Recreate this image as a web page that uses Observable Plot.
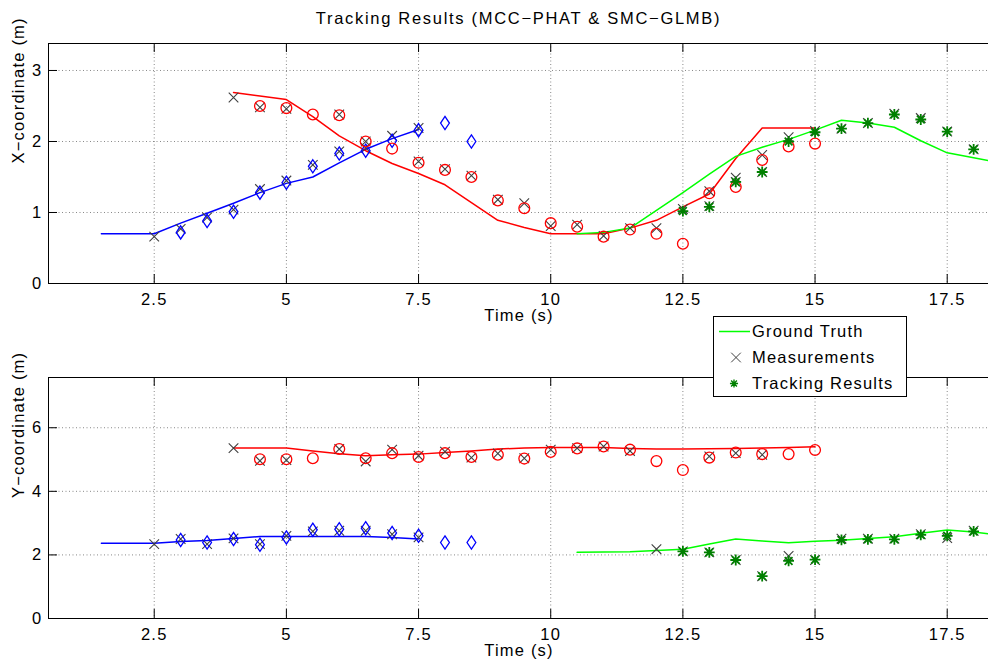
<!DOCTYPE html>
<html><head><meta charset="utf-8">
<script src="https://cdn.jsdelivr.net/npm/d3@7"></script>
<script src="https://cdn.jsdelivr.net/npm/@observablehq/plot@0.6"></script>
<style>
html,body{margin:0;padding:0;background:#fff;overflow:hidden;}
#root{position:relative;width:988px;height:661px;overflow:hidden;font-family:"Liberation Sans",Arial,sans-serif;color:#000;}
.abs{position:absolute;}
#title{left:48px;width:941px;top:8px;text-align:center;font-size:16.5px;letter-spacing:1.7px;line-height:20px;white-space:nowrap;}
</style></head><body>
<div id="root">
<div id="top" class="abs" style="left:0;top:0"></div>
<div id="bot" class="abs" style="left:0;top:330px"></div>
<div id="title" class="abs">Tracking Results (MCC−PHAT &amp; SMC−GLMB)</div>
<div id="legend" class="abs" style="left:713px;top:316px"></div>
</div>
<script>
// ---------- data ----------
const xTicks = [2.5, 5, 7.5, 10, 12.5, 15, 17.5];
const yTicksTop = [0, 1, 2, 3];
const yTicksBot = [0, 2, 4, 6];

// target 1 (blue)
const t1Truth = [1.5, 2, 2.5, 3, 3.5, 4, 4.5, 5, 5.5, 6, 6.5, 7, 7.5];
const x1Truth = [0.70, 0.70, 0.70, 0.85, 0.99, 1.13, 1.28, 1.41, 1.50, 1.70, 1.89, 2.04, 2.17];
const y1Truth = [2.37, 2.37, 2.37, 2.42, 2.45, 2.52, 2.58, 2.58, 2.58, 2.58, 2.58, 2.55, 2.50];
const t1Est = [3, 3.5, 4, 4.5, 5, 5.5, 6, 6.5, 7, 7.5, 8, 8.5];
const x1Est = [0.72, 0.88, 1.01, 1.28, 1.42, 1.65, 1.83, 1.87, 2.01, 2.16, 2.26, 2.00];
const y1Est = [2.47, 2.39, 2.50, 2.32, 2.55, 2.79, 2.81, 2.84, 2.69, 2.60, 2.39, 2.39];

// target 2 (red)
const t2Truth = [4, 4.5, 5, 5.5, 6, 6.5, 7, 7.5, 8, 8.5, 9, 9.5, 10, 10.5, 11, 11.5, 12, 12.5, 13, 13.5, 14, 14.5, 15];
const x2Truth = [2.69, 2.64, 2.59, 2.35, 2.08, 1.87, 1.69, 1.55, 1.39, 1.14, 0.89, 0.79, 0.70, 0.70, 0.70, 0.78, 0.89, 1.08, 1.26, 1.76, 2.19, 2.19, 2.19];
const y2Truth = [5.36, 5.36, 5.36, 5.27, 5.18, 5.12, 5.15, 5.17, 5.22, 5.27, 5.33, 5.36, 5.38, 5.38, 5.38, 5.35, 5.33, 5.33, 5.34, 5.35, 5.36, 5.38, 5.40];
const t2Est = [4.5, 5, 5.5, 6, 6.5, 7, 7.5, 8, 8.5, 9, 9.5, 10, 10.5, 11, 11.5, 12, 12.5, 13, 13.5, 14, 14.5, 15];
const x2Est = [2.50, 2.47, 2.38, 2.37, 2.00, 1.90, 1.70, 1.60, 1.50, 1.17, 1.06, 0.85, 0.80, 0.66, 0.76, 0.70, 0.56, 1.27, 1.36, 1.74, 1.93, 1.97];
const y2Est = [5.01, 5.01, 5.04, 5.33, 5.04, 5.20, 5.08, 5.20, 5.08, 5.15, 5.03, 5.24, 5.35, 5.41, 5.31, 4.95, 4.67, 5.06, 5.22, 5.17, 5.17, 5.30];

// target 3 (green)
const t3Truth = [10.5, 11, 11.5, 12, 12.5, 13, 13.5, 14, 14.5, 15, 15.5, 16, 16.5, 17, 17.5, 18, 18.5];
const x3Truth = [0.70, 0.72, 0.78, 1.03, 1.28, 1.54, 1.79, 1.92, 2.03, 2.16, 2.30, 2.26, 2.20, 2.01, 1.84, 1.77, 1.70];
const y3Truth = [2.08, 2.09, 2.10, 2.14, 2.18, 2.34, 2.50, 2.44, 2.38, 2.43, 2.46, 2.52, 2.57, 2.68, 2.78, 2.72, 2.62];
const t3Est = [12.5, 13, 13.5, 14, 14.5, 15, 15.5, 16, 16.5, 17, 17.5, 18];
const x3Est = [1.02, 1.08, 1.43, 1.57, 2.00, 2.13, 2.18, 2.26, 2.38, 2.31, 2.14, 1.89];
const y3Est = [2.11, 2.08, 1.84, 1.33, 1.81, 1.85, 2.47, 2.49, 2.49, 2.63, 2.60, 2.74];

// measurements
const tMeasX = [2.5, 3, 3.5, 4, 4, 4.5, 4.5, 5, 5, 5.5, 6, 6, 6.5, 6.5, 7, 7.5, 7.5, 8, 8.5, 9, 9.5, 10, 10.5, 11, 11.5, 12, 12.5, 13, 13, 13.5, 13.5, 14, 14, 14.5, 15, 15.5, 16, 16.5, 17, 17.5, 18];
const xMeas  = [0.66, 0.77, 0.93, 1.04, 2.62, 1.33, 2.48, 1.45, 2.46, 1.67, 1.86, 2.38, 1.91, 2.00, 2.08, 2.19, 1.72, 1.61, 1.52, 1.18, 1.13, 0.81, 0.83, 0.67, 0.78, 0.78, 1.05, 1.30, 1.09, 1.49, 1.43, 1.81, 1.57, 2.06, 2.15, 2.18, 2.26, 2.39, 2.33, 2.14, 1.89];
const tMeasY = [2.5, 3, 3.5, 4, 4, 4.5, 4.5, 5, 5, 5.5, 6, 6, 6.5, 6.5, 7, 7, 7.5, 7.5, 8, 8.5, 9, 9.5, 10, 10.5, 11, 11.5, 12, 12.5, 13, 13, 13.5, 13.5, 14, 14, 14.5, 15, 15.5, 16, 16.5, 17, 17.5, 18];
const yMeas  = [2.34, 2.50, 2.34, 2.52, 5.36, 2.34, 4.96, 2.60, 4.98, 2.74, 2.76, 5.33, 2.76, 4.94, 2.65, 5.31, 2.55, 5.12, 5.25, 5.06, 5.19, 5.04, 5.31, 5.36, 5.41, 5.27, 2.18, 2.11, 5.10, 2.08, 5.20, 1.84, 5.15, 1.33, 1.97, 1.84, 2.51, 2.51, 2.51, 2.65, 2.53, 2.76];

const legendLabels = ["Ground Truth", "Measurements", "Tracking Results"];

// ---------- styles ----------
const BLUE = "#0000ff", RED = "#ff0000", GREEN = "#00ff00", DKGREEN = "#008000", GRAY = "#404040";
const symTimes = {draw(ctx) { const r = 4.8; ctx.moveTo(-r, -r); ctx.lineTo(r, r); ctx.moveTo(r, -r); ctx.lineTo(-r, r); }};
const symStar = {draw(ctx) { const r = 5.4, d = r * 0.72;
  ctx.moveTo(-r, 0); ctx.lineTo(r, 0); ctx.moveTo(0, -r); ctx.lineTo(0, r);
  ctx.moveTo(-d, -d); ctx.lineTo(d, d); ctx.moveTo(d, -d); ctx.lineTo(-d, d); }};
const symDiamond = {draw(ctx) { const w = 4.4, h = 6.6; ctx.moveTo(0, -h); ctx.lineTo(w, 0); ctx.lineTo(0, h); ctx.lineTo(-w, 0); ctx.closePath(); }};

const zip = (ts, vs) => ts.map((t, i) => ({t, v: vs[i]}));
const FONT = '"Liberation Sans", Arial, sans-serif';
const W = 1000, ML = 48, MR = 11;
const fmt = d => String(d);

function panel({height, mt, mb, ydom, yticks, ylabel, series, meas}) {
  const innerH = height - mt - mb, innerW = W - ML - MR;
  const marks = [
    Plot.gridX(xTicks, {stroke: "#888", strokeOpacity: 1, strokeDasharray: "1,2.5"}),
    Plot.gridY(yticks, {stroke: "#888", strokeOpacity: 1, strokeDasharray: "1,2.5"}),
    Plot.tickX(xTicks, {x: d => d, insetTop: innerH - 9, stroke: "black"}),
    Plot.tickX(xTicks, {x: d => d, insetBottom: innerH - 9, stroke: "black"}),
    Plot.tickY(yticks, {y: d => d, insetRight: innerW - 9, stroke: "black"}),
    Plot.frame({stroke: "black"}),
    Plot.axisX({ticks: xTicks, tickSize: 0, tickPadding: 10, tickFormat: fmt, label: null}),
    Plot.axisY({ticks: yticks, tickSize: 0, tickPadding: 6, tickFormat: fmt, label: null}),
    Plot.text(["Time (s)"], {text: d => d, frameAnchor: "bottom", dy: 32, lineAnchor: "middle"}),
    Plot.text([ylabel], {text: d => d, frameAnchor: "left", dx: -30, rotate: -90, lineAnchor: "middle"})
  ];
  for (const s of series) marks.push(Plot.line(s.truth, {x: "t", y: "v", stroke: s.color, strokeWidth: 1.5}));
  marks.push(Plot.dot(meas, {x: "t", y: "v", symbol: symTimes, r: 5, fill: "none", stroke: GRAY, strokeWidth: 1.1}));
  for (const s of series) marks.push(Plot.dot(s.est, {x: "t", y: "v", symbol: s.symbol, r: s.r, fill: "none", stroke: s.estColor, strokeWidth: s.sw}));
  return Plot.plot({
    width: W, height, marginTop: mt, marginBottom: mb, marginLeft: ML, marginRight: MR,
    x: {domain: [0.5, 18.3]},
    y: {domain: ydom},
    style: {fontFamily: FONT, fontSize: "16.5px", letterSpacing: "1.2px", background: "transparent", maxWidth: "none", overflow: "visible", color: "black"},
    marks
  });
}

const topPlot = panel({
  height: 330, mt: 43, mb: 47, ydom: [0, 3.38], yticks: yTicksTop, ylabel: "X−coordinate (m)",
  series: [
    {truth: zip(t1Truth, x1Truth), est: zip(t1Est, x1Est), color: BLUE, estColor: BLUE, symbol: symDiamond, r: 5, sw: 1.3},
    {truth: zip(t2Truth, x2Truth), est: zip(t2Est, x2Est), color: RED, estColor: RED, symbol: "circle", r: 5.4, sw: 1.3},
    {truth: zip(t3Truth, x3Truth), est: zip(t3Est, x3Est), color: GREEN, estColor: DKGREEN, symbol: symStar, r: 5, sw: 1.8}
  ],
  meas: zip(tMeasX, xMeas)
});
const botPlot = panel({
  height: 331, mt: 47, mb: 43, ydom: [0, 7.58], yticks: yTicksBot, ylabel: "Y−coordinate (m)",
  series: [
    {truth: zip(t1Truth, y1Truth), est: zip(t1Est, y1Est), color: BLUE, estColor: BLUE, symbol: symDiamond, r: 5, sw: 1.3},
    {truth: zip(t2Truth, y2Truth), est: zip(t2Est, y2Est), color: RED, estColor: RED, symbol: "circle", r: 5.4, sw: 1.3},
    {truth: zip(t3Truth, y3Truth), est: zip(t3Est, y3Est), color: GREEN, estColor: DKGREEN, symbol: symStar, r: 5, sw: 1.8}
  ],
  meas: zip(tMeasY, yMeas)
});
document.getElementById("top").appendChild(topPlot);
document.getElementById("bot").appendChild(botPlot);

// ---------- legend ----------
const lg = d3.select("#legend").append("svg").attr("width", 196).attr("height", 83)
  .style("font-family", FONT).style("font-size", "16.5px").style("letter-spacing", "1.2px");
lg.append("rect").attr("x", 0.5).attr("y", 0.5).attr("width", 193).attr("height", 80).attr("fill", "white").attr("stroke", "black");
const rowsY = [15.5, 41.5, 67.5];
lg.append("line").attr("x1", 6).attr("x2", 37).attr("y1", rowsY[0]).attr("y2", rowsY[0]).attr("stroke", GREEN).attr("stroke-width", 1.5);
lg.append("path").attr("d", d3.symbol().type(symTimes)()).attr("transform", `translate(23,${rowsY[1]})`).attr("fill", "none").attr("stroke", GRAY);
lg.append("path").attr("d", d3.symbol().type(symStar)()).attr("transform", `translate(21,${rowsY[2]}) scale(0.75)`).attr("fill", "none").attr("stroke", DKGREEN).attr("stroke-width", 1.8);
legendLabels.forEach((s, i) => {
  lg.append("text").attr("x", 39).attr("y", rowsY[i]).attr("dy", "0.35em").text(s);
});
</script>
</body></html>
